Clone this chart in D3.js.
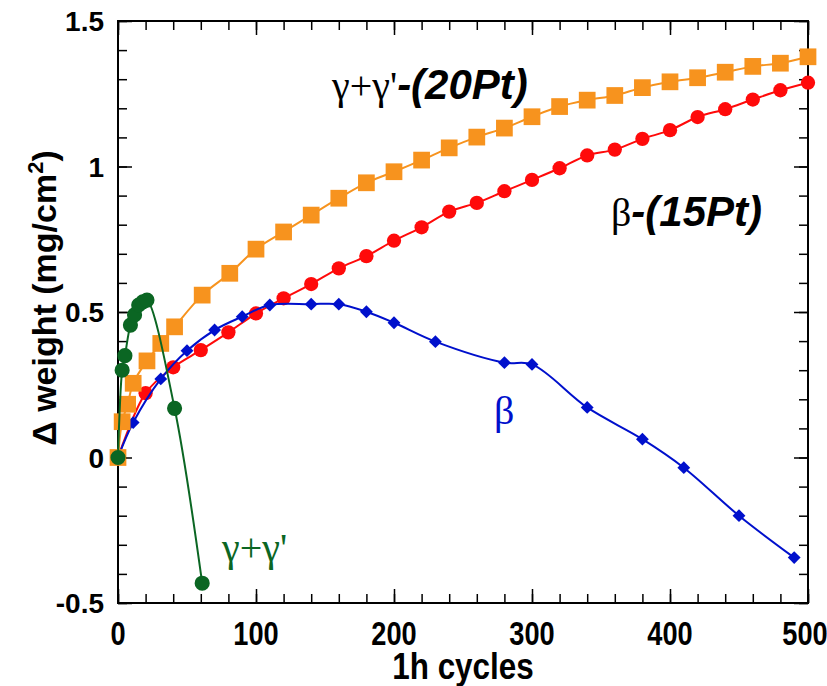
<!DOCTYPE html>
<html>
<head>
<meta charset="utf-8">
<script src="https://cdn.jsdelivr.net/npm/d3@7"></script>
<style>
  body { margin: 0; background: #fff; }
</style>
</head>
<body>
<div id="container"></div>
<script>
let w = 827;
let h = 686;
let margin = {left: 118, right: 19, top: 21, bottom: 83};

// DATA
// gamma+gamma' (20Pt) - orange squares
let orangeX = [0, 3, 7, 11, 21, 31, 41, 61, 81, 100, 120, 140, 160, 180, 200, 220, 240, 260, 280, 300, 320, 340, 360, 380, 400, 420, 440, 460, 480, 500];
let orangeY = [0, 0.123, 0.183, 0.255, 0.332, 0.392, 0.449, 0.558, 0.633, 0.716, 0.775, 0.833, 0.891, 0.944, 0.982, 1.022, 1.064, 1.101, 1.132, 1.171, 1.206, 1.228, 1.244, 1.271, 1.291, 1.305, 1.324, 1.344, 1.355, 1.377];

// beta (15Pt) - red circles
let redX = [0, 20, 40, 60, 80, 100, 120, 140, 160, 180, 200, 220, 240, 260, 280, 300, 320, 340, 360, 380, 400, 420, 440, 460, 480, 500];
let redY = [0, 0.221, 0.31, 0.369, 0.43, 0.495, 0.547, 0.596, 0.650, 0.692, 0.745, 0.791, 0.845, 0.875, 0.915, 0.954, 0.994, 1.038, 1.058, 1.095, 1.125, 1.170, 1.197, 1.230, 1.262, 1.288];

// beta - blue diamonds
let blueX = [0, 11, 31, 50, 70, 90, 110, 140, 160, 180, 200, 230, 280, 300, 340, 380, 410, 450, 490];
let blueY = [0, 0.12, 0.27, 0.367, 0.438, 0.484, 0.524, 0.527, 0.527, 0.501, 0.463, 0.398, 0.326, 0.32, 0.172, 0.063, -0.035, -0.2, -0.344];

// gamma+gamma' - green circles
let greenX = [0, 3, 5, 9, 12, 15, 18, 21, 41, 61];
let greenY = [0, 0.30, 0.35, 0.455, 0.49, 0.524, 0.535, 0.541, 0.169, -0.432];

let xTicks = [0, 100, 200, 300, 400, 500];
let yTicks = [-0.5, 0, 0.5, 1, 1.5];
let yTickLabels = ["-0.5", "0", "0.5", "1", "1.5"];

let orange = "#F7931E";
let red = "#FF0A0A";
let blue = "#0010CC";
let green = "#0B6623";

// SVG
let viz = d3.select("#container").append("svg")
    .attr("width", w)
    .attr("height", h)
    .style("background-color", "white")
;

let xScale = d3.scaleLinear().domain([0, 500]).range([margin.left, w - margin.right]);
let yScale = d3.scaleLinear().domain([-0.5, 1.5]).range([h - margin.bottom, margin.top]);

let x0 = xScale.range()[0], x1 = xScale.range()[1];
let y0 = yScale.range()[0], y1 = yScale.range()[1];

// minor ticks every 20 / 0.1, inward, on all four sides
let xMinor = d3.range(0, 501, 20);
let yMinor = d3.range(-5, 16).map(d => d / 10);

function tickAxis(axis, transform, majorLen, minorLen, minor, major){
  viz.append("g").attr("transform", transform)
    .call(axis().tickValues(minor).tickSize(minorLen).tickFormat(""))
    .call(g => g.select(".domain").remove())
    .selectAll("line").attr("stroke", "black").attr("stroke-width", 1.5);
  viz.append("g").attr("transform", transform)
    .call(axis().tickValues(major).tickSize(majorLen).tickFormat(""))
    .call(g => g.select(".domain").remove())
    .selectAll("line").attr("stroke", "black").attr("stroke-width", 1.5);
}
tickAxis(() => d3.axisBottom(xScale), `translate(0,${y1})`, 14, 9, xMinor, xTicks);
tickAxis(() => d3.axisTop(xScale), `translate(0,${y0})`, 14, 9, xMinor, xTicks);
tickAxis(() => d3.axisRight(yScale), `translate(${x0},0)`, 14, 9, yMinor, yTicks);
tickAxis(() => d3.axisLeft(yScale), `translate(${x1},0)`, 14, 9, yMinor, yTicks);

// frame
viz.append("rect")
  .attr("x", x0).attr("y", y1)
  .attr("width", x1 - x0).attr("height", y0 - y1)
  .attr("fill", "none").attr("stroke", "black").attr("stroke-width", 2);

let serif = "Liberation Serif, Times New Roman, serif";
let sans = "Liberation Sans, Arial, sans-serif";

// tick labels
viz.selectAll(".xlab").data(xTicks).enter()
  .append("text")
    .attr("class", "xlab")
    .attr("transform", d => `translate(${Math.min(xScale(d), w - 22)},${y0 + 42}) scale(0.8,1)`)
    .attr("text-anchor", "middle")
    .attr("font-family", sans)
    .attr("font-weight", "bold")
    .attr("font-size", 34)
    .text(d => d)
;
viz.selectAll(".ylab").data(yTicks).enter()
  .append("text")
    .attr("class", "ylab")
    .attr("x", x0 - 14)
    .attr("y", d => yScale(d) + 10)
    .attr("text-anchor", "end")
    .attr("font-family", sans)
    .attr("font-weight", "bold")
    .attr("font-size", 28)
    .text((d, i) => yTickLabels[i])
;

// axis titles
viz.append("text")
  .attr("transform", `translate(${(x0 + x1) / 2},${h - 7}) scale(0.85,1)`)
  .attr("text-anchor", "middle")
  .attr("font-family", sans)
  .attr("font-weight", "bold")
  .attr("font-size", 37)
  .text("1h cycles");

let yTitle = viz.append("text")
  .attr("transform", `translate(56,298) rotate(-90)`)
  .attr("text-anchor", "middle")
  .attr("font-family", sans)
  .attr("font-weight", "bold")
  .attr("font-size", 34);
yTitle.append("tspan").text("Δ weight (mg/cm");
yTitle.append("tspan").attr("font-size", 22).attr("dy", -13).text("2");
yTitle.append("tspan").attr("dy", 13).text(")");

// series
let lineMaker = d3.line()
  .x(d => xScale(d[0]))
  .y(d => yScale(d[1]))
  .curve(d3.curveCatmullRom.alpha(0.5));

function series(xs, ys, color, shape, size){
  let pts = xs.map((d, i) => [d, ys[i]]);
  viz.append("path")
    .datum(pts)
    .attr("d", lineMaker)
    .attr("fill", "none")
    .attr("stroke", color)
    .attr("stroke-width", 2);
  viz.selectAll(null).data(pts).enter()
    .append("path")
      .attr("transform", d => `translate(${xScale(d[0])},${yScale(d[1])})`)
      .attr("d", d3.symbol().type(shape).size(size))
      .attr("fill", color);
}

series(redX, redY, red, d3.symbolCircle, 160);
series(blueX, blueY, blue, d3.symbolDiamond2, 105);
series(orangeX, orangeY, orange, d3.symbolSquare, 280);
series(greenX, greenY, green, d3.symbolCircle, 180);

// labels
function label(x, y, greek, rest, color, size){
  let t = viz.append("text")
    .attr("x", x).attr("y", y)
    .attr("fill", color);
  t.append("tspan")
    .attr("font-family", serif)
    .attr("font-size", size)
    .text(greek);
  if (rest) {
    t.append("tspan")
      .attr("font-family", sans)
      .attr("font-weight", "bold")
      .attr("font-style", "italic")
      .attr("font-size", 42)
      .text(rest);
  }
}
label(332, 99, "γ+γ'", "-(20Pt)", "black", 40);
label(611, 226, "β", "-(15Pt)", "black", 40);
label(222, 561, "γ+γ'", null, green, 40);
label(494, 424, "β", null, blue, 40);
</script>
</body>
</html>
